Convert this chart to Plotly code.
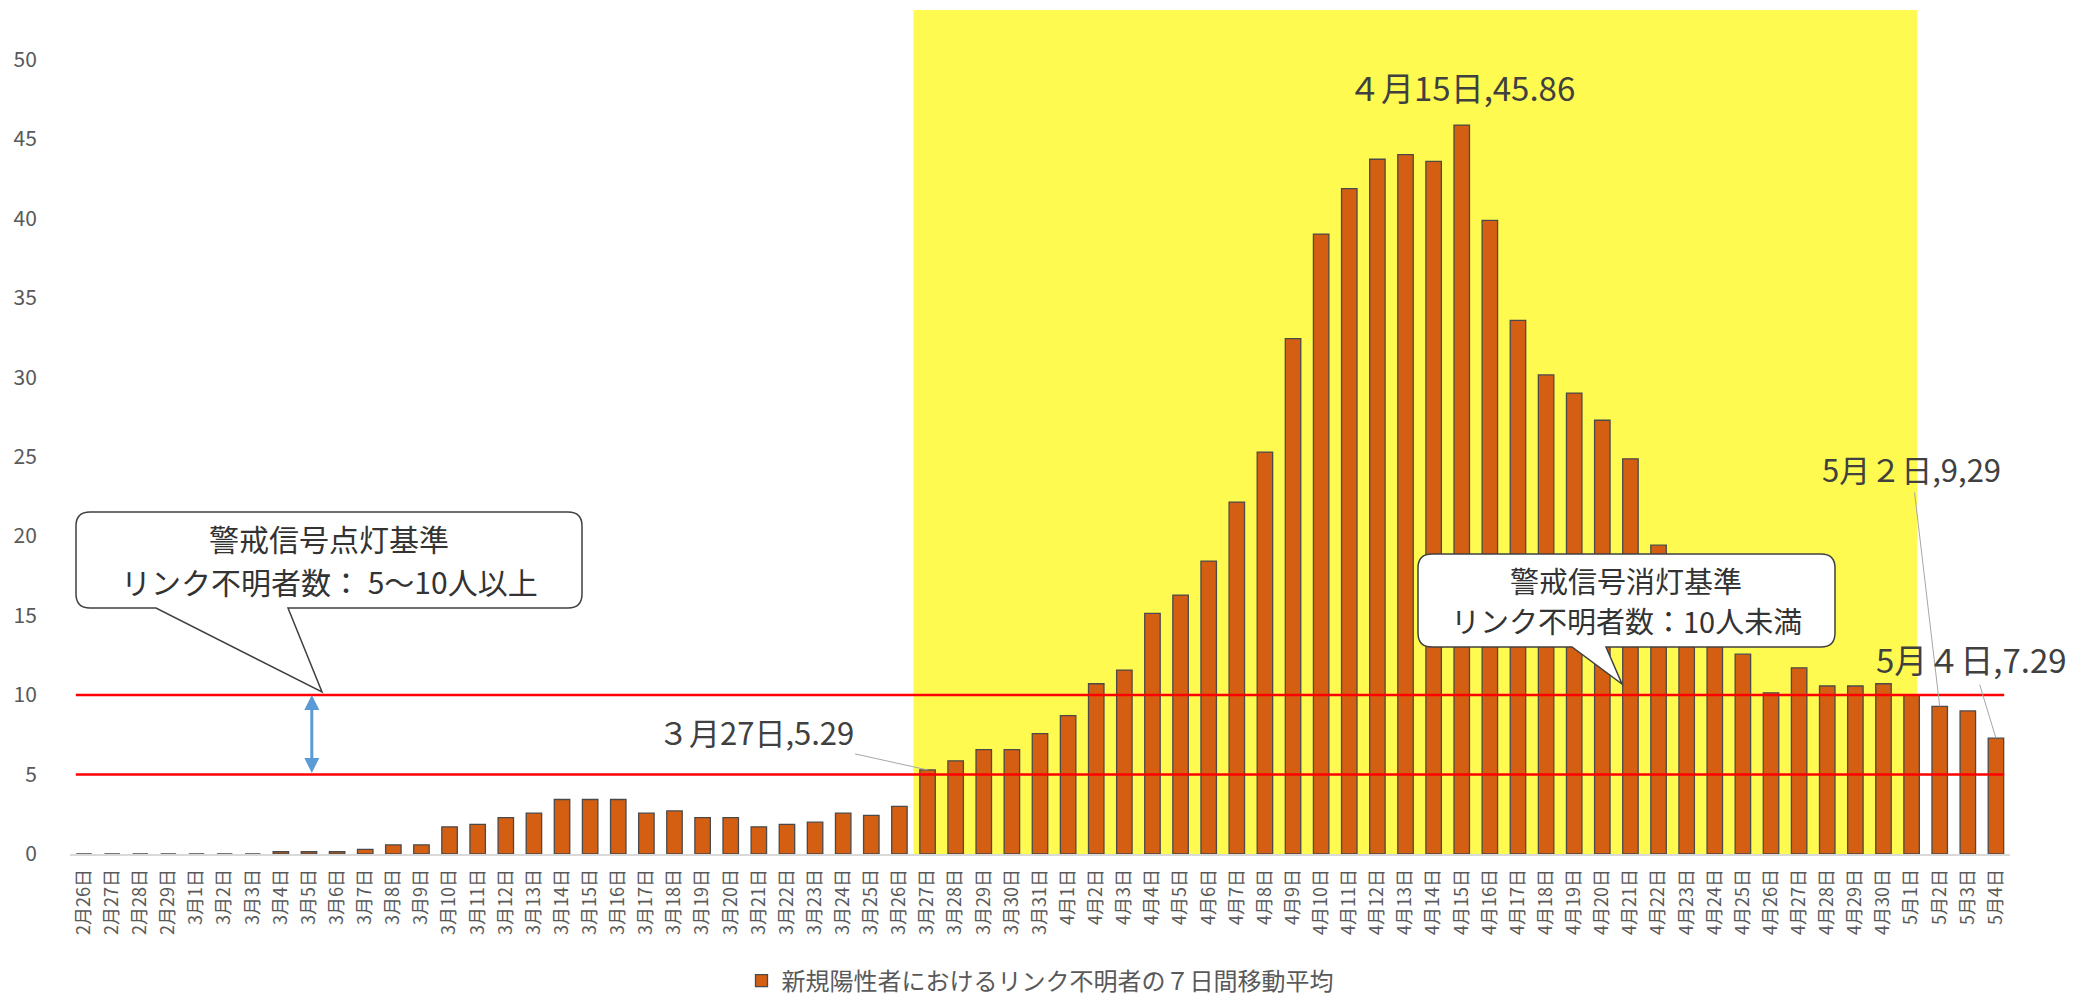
import plotly.graph_objects as go

# ---------------- data ----------------
dates = (["2月26日", "2月27日", "2月28日", "2月29日"]
         + [f"3月{d}日" for d in range(1, 32)]
         + [f"4月{d}日" for d in range(1, 31)]
         + [f"5月{d}日" for d in range(1, 5)])

values = [0, 0, 0, 0,                                   # 2/26-2/29
          0, 0, 0, 0.14, 0.14, 0.14, 0.29, 0.57, 0.57,  # 3/1-3/9
          1.71, 1.86, 2.29, 2.57, 3.43, 3.43, 3.43,     # 3/10-3/16
          2.57, 2.71, 2.29, 2.29, 1.71, 1.86, 2.0,      # 3/17-3/23
          2.57, 2.43, 3.0, 5.29, 5.86, 6.57, 6.57, 7.57,  # 3/24-3/31
          8.71, 10.71, 11.57, 15.14, 16.29, 18.43, 22.14, 25.29, 32.43,  # 4/1-4/9
          39.0, 41.86, 43.71, 44.0, 43.57, 45.86, 39.86, 33.57, 30.14,   # 4/10-4/18
          29.0, 27.29, 24.86, 19.43, 16.57, 14.43, 12.57, 10.14, 11.71,  # 4/19-4/27
          10.57, 10.57, 10.71,                                          # 4/28-4/30
          10.0, 9.29, 9.0, 7.29]                                        # 5/1-5/4

series_name = "新規陽性者におけるリンク不明者の７日間移動平均"
y_ticks = [0, 5, 10, 15, 20, 25, 30, 35, 40, 45, 50]
thresholds = [5, 10]

# ---------------- geometry ----------------
OFF = 8                      # default page margin of the html body
W, H = 2066, 991             # figure size (page 2082x1007 minus body margins)
ML, MR, MT, MB = 62, 64, 2, 145
PW, PH = W - ML - MR, H - MT - MB
Y_TOP = 53.1
FONT = "Noto Sans CJK JP"


def px2paper(x, y):
    """page pixel -> paper coords"""
    return (x - OFF - ML) / PW, (H - MB - (y - OFF)) / PH


def path_from_px(points_cmds):
    out = []
    for cmd, pts in points_cmds:
        coords = []
        for (x, y) in pts:
            px, py = px2paper(x, y)
            coords.append(f"{px:.5f},{py:.5f}")
        out.append(cmd + " ".join(coords))
    return " ".join(out) + " Z"


def callout_path(x0, y0, x1, y1, r, base_l, base_r, tip):
    cmds = [
        ("M", [(x0 + r, y0)]),
        ("L", [(x1 - r, y0)]),
        ("Q", [(x1, y0), (x1, y0 + r)]),
        ("L", [(x1, y1 - r)]),
        ("Q", [(x1, y1), (x1 - r, y1)]),
        ("L", [(base_r, y1)]),
        ("L", [tip]),
        ("L", [(base_l, y1)]),
        ("L", [(x0 + r, y1)]),
        ("Q", [(x0, y1), (x0, y1 - r)]),
        ("L", [(x0, y0 + r)]),
        ("Q", [(x0, y0), (x0 + r, y0)]),
    ]
    return path_from_px(cmds)


fig = go.Figure()
fig.add_trace(go.Bar(
    x=dates, y=values, name=series_name,
    marker=dict(color="#D45F12", line=dict(color="#4a4a4a", width=1.3)),
    showlegend=True,
))

shapes = []
# yellow highlight period
shapes.append(dict(type="rect", xref="x", yref="paper", x0=29.5, x1=65.2, y0=0, y1=1,
                   fillcolor="#FFFA50", line=dict(width=0), layer="below"))
# threshold lines
for t in thresholds:
    shapes.append(dict(type="line", xref="paper", yref="y", x0=0.003, x1=0.997, y0=t, y1=t,
                       line=dict(color="#FF0000", width=2.5), layer="above"))
# callouts
shapes.append(dict(type="path", xref="paper", yref="paper",
                   path=callout_path(76, 512, 582, 608, 14, 156, 288, (322, 692)),
                   fillcolor="white", line=dict(color="#404040", width=1.5), layer="above"))
shapes.append(dict(type="path", xref="paper", yref="paper",
                   path=callout_path(1418, 554, 1835, 647, 14, 1572, 1606, (1622, 684)),
                   fillcolor="white", line=dict(color="#404040", width=1.5), layer="above"))

annotations = []


def text_px(x, y, text, size):
    px, py = px2paper(x, y)
    annotations.append(dict(xref="paper", yref="paper", x=px, y=py, text=text, showarrow=False,
                            xanchor="center", yanchor="middle", borderpad=0,
                            font=dict(family=FONT, size=size, color="#333333")))


text_px(329, 538, "警戒信号点灯基準", 30)
text_px(329, 581, "リンク不明者数： 5～10人以上", 30)
text_px(1626, 580, "警戒信号消灯基準", 29)
text_px(1626, 620, "リンク不明者数：10人未満", 29)


def lab_font(size):
    return dict(family=FONT, size=size, color="#404040")


# data labels with leader lines
annotations.append(dict(x=30, y=values[30], xref="x", yref="y", text="３月27日,5.29",
                        showarrow=True, arrowhead=0, arrowwidth=1, arrowcolor="#A6A6A6",
                        ax=-172, ay=-38, font=lab_font(31)))
annotations.append(dict(x=49, y=values[49], xref="x", yref="y", text="４月15日,45.86",
                        showarrow=False, yanchor="bottom", yshift=12, font=lab_font(33)))
annotations.append(dict(x=66, y=values[66], xref="x", yref="y", text="5月２日,9,29",
                        showarrow=True, arrowhead=0, arrowwidth=1, arrowcolor="#A6A6A6",
                        ax=-28, ay=-238, font=lab_font(31)))
annotations.append(dict(x=68, y=values[68], xref="x", yref="y", text="5月４日,7.29",
                        showarrow=True, arrowhead=0, arrowwidth=1, arrowcolor="#A6A6A6",
                        ax=-24, ay=-79, font=lab_font(33)))
# blue double arrow between thresholds
annotations.append(dict(x=8.1, y=thresholds[1], ax=8.1, ay=thresholds[0], xref="x", yref="y",
                        axref="x", ayref="y", text="", showarrow=True,
                        arrowside="end+start", arrowhead=2, arrowsize=1, arrowwidth=3,
                        arrowcolor="#5B9BD5", standoff=0, startstandoff=0))

fig.update_layout(
    width=W, height=H,
    margin=dict(l=ML, r=MR, t=MT, b=MB, autoexpand=False),
    paper_bgcolor="white", plot_bgcolor="white",
    bargap=0.45,
    font=dict(family=FONT, color="#595959"),
    shapes=shapes, annotations=annotations,
    showlegend=True,
    legend=dict(orientation="h", x=0.5, xanchor="center", y=(846 - 973) / 844, yanchor="middle",
                font=dict(family=FONT, size=24, color="#595959"), bgcolor="rgba(0,0,0,0)",
                tracegroupgap=0, itemwidth=30),
    xaxis=dict(type="category", range=[-0.5, len(dates) - 0.5], autorange=False,
               tickangle=-90, tickfont=dict(family=FONT, size=18, color="#595959"),
               showline=True, linecolor="#D9D9D9", linewidth=1.5, showgrid=False,
               ticks="outside", ticklen=6, tickcolor="rgba(0,0,0,0)", zeroline=False),
    yaxis=dict(range=[0, Y_TOP], tickvals=y_ticks, showgrid=False, zeroline=False,
               tickfont=dict(family=FONT, size=21, color="#595959"),
               ticks="outside", ticklen=28, tickcolor="rgba(0,0,0,0)", showline=False),
)

fig.write_html("out.html")
